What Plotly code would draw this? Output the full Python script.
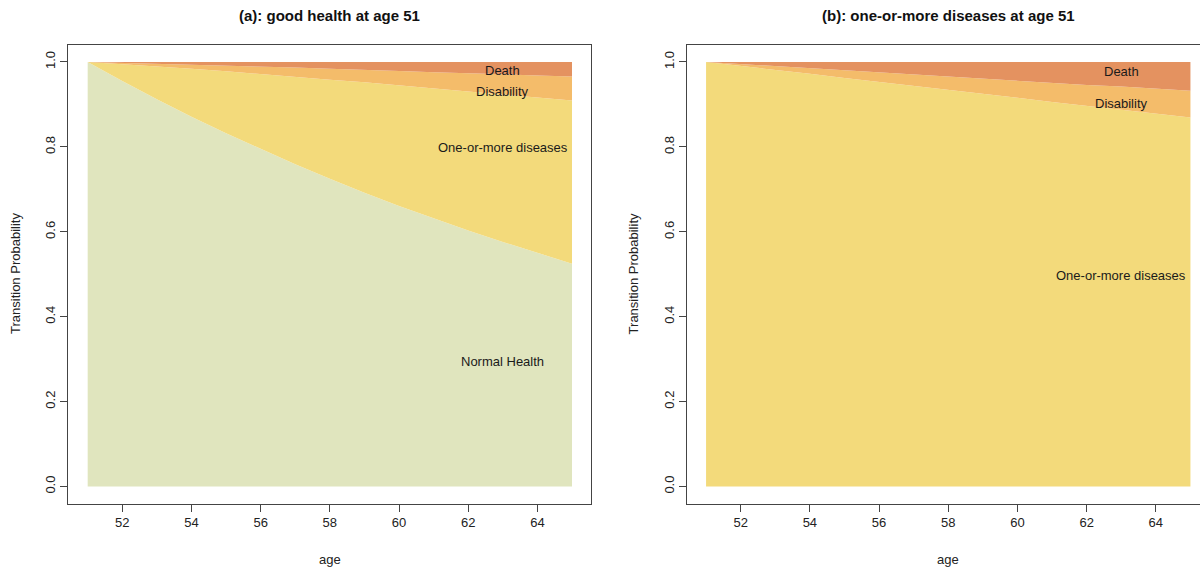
import plotly.graph_objects as go

ages = list(range(51, 66))

# Panel (a): start in good health at age 51 (state probabilities)
normal_a = [1.000, 0.955, 0.912, 0.871, 0.832, 0.795, 0.759, 0.725, 0.692, 0.661, 0.632, 0.603, 0.576, 0.550, 0.525]
diseases_a = [0.000, 0.040, 0.077, 0.113, 0.146, 0.176, 0.206, 0.233, 0.260, 0.284, 0.306, 0.328, 0.348, 0.366, 0.384]
disability_a = [0.000, 0.003, 0.007, 0.010, 0.014, 0.018, 0.022, 0.026, 0.030, 0.034, 0.038, 0.043, 0.047, 0.052, 0.057]
death_a = [0.000, 0.002, 0.004, 0.006, 0.008, 0.011, 0.013, 0.016, 0.018, 0.021, 0.024, 0.026, 0.029, 0.032, 0.034]

# Panel (b): start with one-or-more diseases at age 51
diseases_b = [1.000, 0.991, 0.981, 0.972, 0.962, 0.953, 0.943, 0.935, 0.925, 0.916, 0.906, 0.897, 0.888, 0.879, 0.869]
disability_b = [0.000, 0.004, 0.009, 0.013, 0.018, 0.022, 0.027, 0.031, 0.036, 0.040, 0.045, 0.049, 0.054, 0.058, 0.063]
death_b = [0.000, 0.005, 0.010, 0.015, 0.020, 0.025, 0.030, 0.034, 0.039, 0.044, 0.049, 0.054, 0.058, 0.063, 0.068]

x_ticks = [52, 54, 56, 58, 60, 62, 64]
y_ticks = [0.0, 0.2, 0.4, 0.6, 0.8, 1.0]
y_tick_text = ["0.0", "0.2", "0.4", "0.6", "0.8", "1.0"]

titles = ["(a): good health at age 51", "(b): one-or-more diseases at age 51"]

labels_a = [("Death", 63, 0.979), ("Disability", 63, 0.930),
            ("One-or-more diseases", 63, 0.798), ("Normal Health", 63, 0.295)]
labels_b = [("Death", 63, 0.977), ("Disability", 63, 0.902),
            ("One-or-more diseases", 63, 0.498)]

C_NORMAL = "#E0E5BE"
C_DIS = "#F3DA7B"
C_DISAB = "#F4BC6A"
C_DEATH = "#E49260"

FONT = "Liberation Sans, Arial, sans-serif"

fig = go.Figure()

def add_stack(xa, ya, group, series):
    for vals, col in series:
        fig.add_trace(go.Scatter(
            x=ages, y=vals, xaxis=xa, yaxis=ya, stackgroup=group,
            mode="lines", line=dict(width=0, color=col), fillcolor=col,
            hoverinfo="skip", showlegend=False))

add_stack("x", "y", "a", [(normal_a, C_NORMAL), (diseases_a, C_DIS),
                          (disability_a, C_DISAB), (death_a, C_DEATH)])
add_stack("x2", "y2", "b", [(diseases_b, C_DIS), (disability_b, C_DISAB),
                            (death_b, C_DEATH)])

W, H = 1200, 569
# pixel geometry of the plot boxes
ax_l, ax_r = 68.3, 591.4
bx_l = 686.7
box_t, box_b = 45.0, 503.5
y_dom = [(H - box_b) / H, (H - box_t) / H]

axis_common = dict(showgrid=False, zeroline=False, showline=True, linecolor="#444",
                   linewidth=1, ticks="outside", ticklen=7, tickcolor="#444",
                   tickfont=dict(family=FONT, size=13, color="#222"))

px_per_year = (ax_r - ax_l) / (14 * 1.08)
xr_a = [51 - 14 * 0.04, 65 + 14 * 0.04]
xr_b_right = xr_a[0] + (W - bx_l) / px_per_year

fig.update_layout(
    width=W, height=H, margin=dict(l=0, r=0, t=0, b=0),
    paper_bgcolor="white", plot_bgcolor="white",
    font=dict(family=FONT, size=13, color="#222"),
    xaxis=dict(domain=[ax_l / W, ax_r / W], range=xr_a, tickvals=x_ticks,
               mirror=True, anchor="y", **axis_common),
    yaxis=dict(domain=y_dom, range=[-0.04, 1.04], tickvals=y_ticks, ticktext=y_tick_text,
               tickangle=-90, mirror=True, anchor="x", **axis_common),
    xaxis2=dict(domain=[bx_l / W, 1.0], range=[xr_a[0], xr_b_right], tickvals=x_ticks,
                mirror=True, anchor="y2", **axis_common),
    yaxis2=dict(domain=y_dom, range=[-0.04, 1.04], tickvals=y_ticks, ticktext=y_tick_text,
                tickangle=-90, mirror=False, anchor="x2", **axis_common),
)

ann = []
centers = [(ax_l + ax_r) / 2, bx_l + (ax_r - ax_l) / 2]
for t, cx in zip(titles, centers):
    ann.append(dict(text="<b>%s</b>" % t, x=cx / W, y=1 - 15 / H, xref="paper", yref="paper",
                    showarrow=False, font=dict(family=FONT, size=15, color="#111"),
                    xanchor="center", yanchor="middle"))
    ann.append(dict(text="age", x=cx / W, y=1 - 559 / H, xref="paper", yref="paper",
                    showarrow=False, font=dict(family=FONT, size=13, color="#222"),
                    xanchor="center", yanchor="middle"))
for lx in [15, 15 + bx_l - ax_l]:
    ann.append(dict(text="Transition Probability", x=lx / W, y=1 - 274 / H,
                    xref="paper", yref="paper", showarrow=False, textangle=-90,
                    font=dict(family=FONT, size=13, color="#222"),
                    xanchor="center", yanchor="middle"))
for txt, xv, yv in labels_a:
    ann.append(dict(text=txt, x=xv, y=yv, xref="x", yref="y", showarrow=False,
                    font=dict(family=FONT, size=13, color="#1a1a1a")))
for txt, xv, yv in labels_b:
    ann.append(dict(text=txt, x=xv, y=yv, xref="x2", yref="y2", showarrow=False,
                    font=dict(family=FONT, size=13, color="#1a1a1a")))
fig.update_layout(annotations=ann)

fig.write_html(
    "out.html",
    config={"displayModeBar": False},
    post_script="document.body.style.margin='0';document.body.style.overflow='hidden';",
)
